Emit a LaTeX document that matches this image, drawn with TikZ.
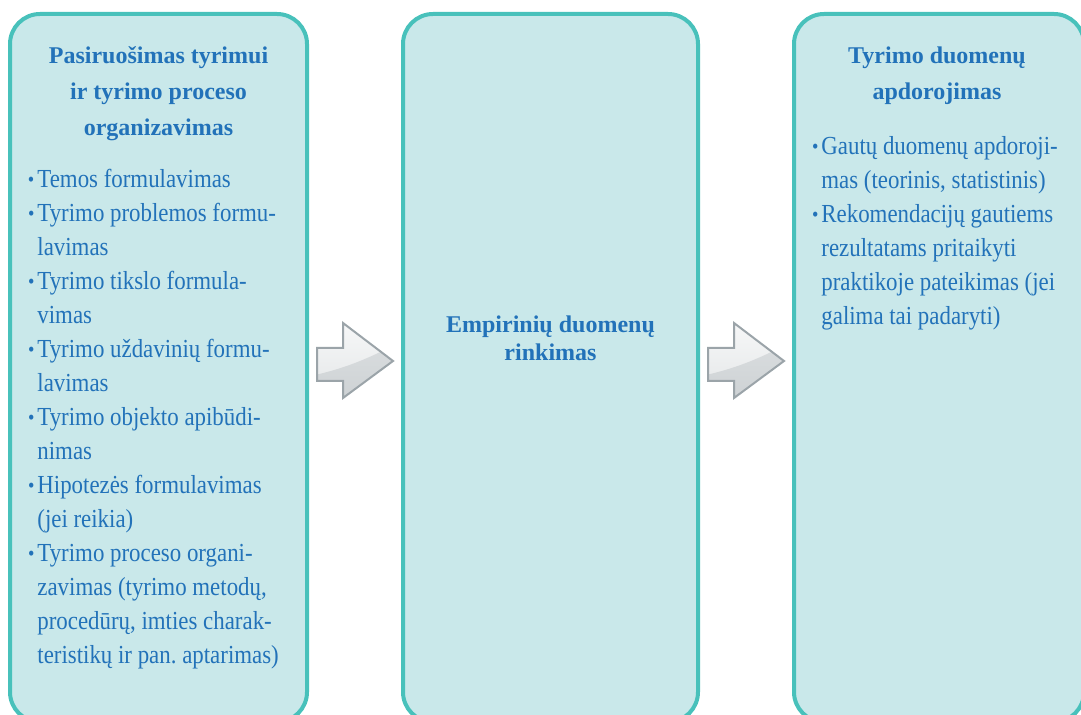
\documentclass[tikz,border=0pt]{standalone}
\usepackage{fontspec}
\setmainfont{Liberation Serif}
\newfontfamily\listfont{Liberation Serif}[FakeStretch=0.88]
\usetikzlibrary{positioning,calc}
\definecolor{boxfill}{HTML}{C9E8EA}
\definecolor{boxline}{HTML}{48C1BB}
\definecolor{txtblue}{HTML}{2272B9}
\definecolor{arrline}{HTML}{9BA4A9}
\frenchspacing
\tikzset{
  stage/.style={draw=boxline,fill=boxfill,line width=2pt,rounded corners=15pt,
    minimum height=354pt,inner sep=0pt},
  head/.style={text=txtblue,font=\bfseries\fontsize{12}{18}\selectfont,
    align=flush center,inner sep=0pt,anchor=base,text width=140pt},
  items/.style={text=txtblue,font=\listfont\fontsize{13}{17}\selectfont,
    align=flush left,inner sep=0pt,anchor=base west},
}
\newcommand*{\itm}{\makebox[5.5pt][l]{\hspace{0.8pt}\raisebox{0.15ex}{\scalebox{0.8}{\textbullet}}}}
\newcommand*{\cnt}{\hspace*{5.5pt}}
% grey block arrow, centred on #1
\newcommand*{\grayarrow}[1]{%
  \begin{scope}[shift={(#1)}]
    \begin{scope}
      \clip (-38,-13) -- (-12,-13) -- (-12,-38) -- (38,0) -- (-12,37) -- (-12,20) -- (-38,20) -- cycle;
      \shade[top color=white!92!arrline,bottom color=white!72!arrline] (-40,-40) rectangle (40,40);
      \shade[top color=white!62!arrline,bottom color=white!50!arrline]
        (-40,14) .. controls (-5,6) and (15,-4) .. (40,-16) -- (40,40) -- (-40,40) -- cycle;
    \end{scope}
    \draw[arrline,line width=1pt,line join=miter]
      (-38,-13) -- (-12,-13) -- (-12,-38) -- (38,0) -- (-12,37) -- (-12,20) -- (-38,20) -- cycle;
  \end{scope}}

\begin{document}
\begin{tikzpicture}[x=0.5pt,y=-0.5pt]
\useasboundingbox (0,0) rectangle (1081,715);
\clip (0,0) rectangle (1081,715);
% the three stages
\node[stage,minimum width=148.5pt] (b1) at (158.5,368) {};
\node[stage,minimum width=147.5pt] (b2) at (550.5,368) {};
\node[stage,minimum width=145pt] (b3) at (939,368) {};
% headings
\node[head] (h1) at (158.5,64) {Pasiruošimas tyrimui\\ir tyrimo proceso\\organizavimas};
\node[head,font=\bfseries\fontsize{12}{14}\selectfont] (h2) at (550.5,333) {Empirinių duomenų\\rinkimas};
\node[head] (h3) at (937,64) {Tyrimo duomenų\\apdorojimas};
% lists
\node[items,text width=140pt] (l1) at (26,188) {\itm Temos formulavimas\\
\itm Tyrimo problemos formu-\\\cnt lavimas\\
\itm Tyrimo tikslo formula-\\\cnt vimas\\
\itm Tyrimo uždavinių formu-\\\cnt lavimas\\
\itm Tyrimo objekto apibūdi-\\\cnt nimas\\
\itm Hipotezės formulavimas\\\cnt (jei reikia)\\
\itm Tyrimo proceso organi-\\\cnt zavimas (tyrimo metodų,\\\cnt procedūrų, imties charak-\\\cnt teristikų ir pan. aptarimas)};
\node[items,text width=135pt] (l3) at (810,155) {\itm Gautų duomenų apdoroji-\\\cnt mas (teorinis, statistinis)\\
\itm Rekomendacijų gautiems\\\cnt rezultatams pritaikyti\\\cnt praktikoje pateikimas (jei\\\cnt galima tai padaryti)};
% arrows between the stages
\coordinate (a1) at ($(b1.east)!.5!(b2.west)+(0,-7)$);
\coordinate (a2) at ($(b2.east)!.5!(b3.west)+(0,-7)$);
\grayarrow{a1}
\grayarrow{a2}
\end{tikzpicture}
\end{document}
